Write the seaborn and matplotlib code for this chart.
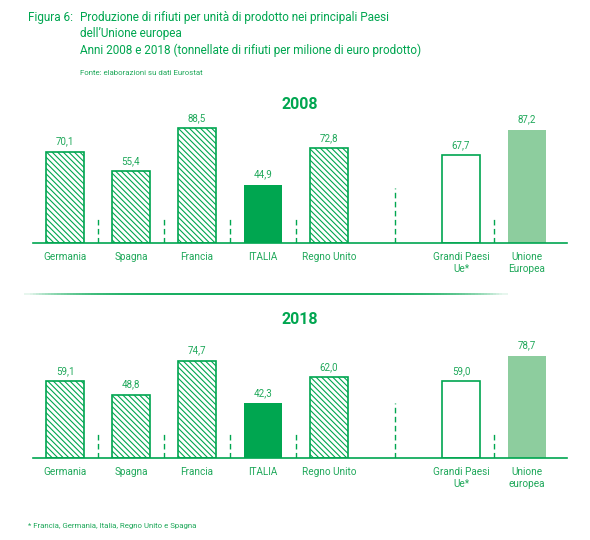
import matplotlib
matplotlib.use("Agg")
import matplotlib.pyplot as plt
import numpy as np
import pandas as pd
import seaborn as sns
from matplotlib.collections import LineCollection

# data
labels_2008 = ["Germania", "Spagna", "Francia", "ITALIA", "Regno Unito", "Grandi Paesi\nUe*", "Unione\nEuropea"]
labels_2018 = ["Germania", "Spagna", "Francia", "ITALIA", "Regno Unito", "Grandi Paesi\nUe*", "Unione\neuropea"]
values_2008 = [70.1, 55.4, 88.5, 44.9, 72.8, 67.7, 87.2]
values_2018 = [59.1, 48.8, 74.7, 42.3, 62.0, 59.0, 78.7]
positions = [0, 1, 2, 3, 4, 6, 7]
kinds = ["hatch", "hatch", "hatch", "italia", "hatch", "empty", "ue"]

GREEN = "#00A650"
LIGHT = "#8DCD9E"
TEXT = "#1FA85A"

sns.set_theme(style="white")
plt.rcParams["font.family"] = ["Roboto", "DejaVu Sans"]
plt.rcParams["hatch.linewidth"] = 0.8

fig = plt.figure(figsize=(5.9, 5.4), dpi=100)
W, H = 590, 540


def panel(base_y, values, labels, year):
    # axes spans baseline x 33..567 px, 1.3 px per unit
    ax = fig.add_axes([33 / W, 1 - base_y / H, 534 / W, 130 / H])
    df = pd.DataFrame({"pos": positions, "val": values})
    sns.barplot(data=df, x="pos", y="val", native_scale=True, width=0.58,
                color=GREEN, ax=ax)
    for p, k in zip(ax.patches, kinds):
        if k == "hatch":
            p.set_facecolor("white"); p.set_edgecolor(GREEN); p.set_hatch("\\" * 6); p.set_linewidth(1.2)
        elif k == "italia":
            p.set_facecolor(GREEN); p.set_edgecolor(GREEN); p.set_linewidth(0)
        elif k == "empty":
            p.set_facecolor("white"); p.set_edgecolor(GREEN); p.set_linewidth(1.2)
        else:
            p.set_facecolor(LIGHT); p.set_edgecolor(LIGHT); p.set_linewidth(0)
    for x, v in zip(positions, values):
        ax.text(x, v + 4, f"{v:.1f}".replace(".", ","), ha="center", va="bottom",
                fontsize=7, color=TEXT)
    # dashed separators
    ax.vlines([0.5, 1.5, 2.5, 3.5, 6.5], 0, 19, colors=GREEN, linewidth=1,
              linestyles=(0, (4, 2.5)))
    ax.vlines([5], 0, 42, colors=GREEN, linewidth=1, linestyles=(0, (4, 2.5)))
    ax.set_xlim(-32 / 66, 502 / 66)
    ax.set_ylim(0, 100)
    ax.set_xticks(positions)
    ax.set_xticklabels(labels, fontsize=7.2, color=TEXT, linespacing=1.25)
    ax.tick_params(axis="x", length=0, pad=6.5)
    ax.set_yticks([])
    ax.set_xlabel("")
    ax.set_ylabel("")
    for s in ["top", "left", "right"]:
        ax.spines[s].set_visible(False)
    ax.spines["bottom"].set_color(GREEN)
    ax.spines["bottom"].set_linewidth(1.2)
    ax.patch.set_alpha(0)
    fig.text(300 / W, 1 - (base_y - 139) / H, year, ha="center", va="center",
             fontsize=11.5, fontweight="bold", color=GREEN)
    return ax


panel(243, values_2008, labels_2008, "2008")
panel(458, values_2018, labels_2018, "2018")

# fading divider line
xs = np.linspace(24, 508, 160)
segs = [[(xs[i] / W, 1 - 294 / H), (xs[i + 1] / W, 1 - 294 / H)] for i in range(len(xs) - 1)]
mid = (xs[:-1] + xs[1:]) / 2
alpha = np.clip(1 - (np.abs(mid - 266) / 242) ** 5, 0.1, 1)
cols = [(0 / 255, 166 / 255, 80 / 255, a) for a in alpha]
fig.add_artist(LineCollection(segs, colors=cols, linewidths=1.3, transform=fig.transFigure))

# titles
fig.text(28 / W, 1 - 18 / H, "Figura 6:", fontsize=8.5, color=GREEN, va="center")
fig.text(80 / W, 1 - 18 / H, "Produzione di rifiuti per unità di prodotto nei principali Paesi",
         fontsize=8.5, color=GREEN, va="center")
fig.text(80 / W, 1 - 34 / H, "dell\u2019Unione europea", fontsize=8.5, color=GREEN, va="center")
fig.text(80 / W, 1 - 50 / H, "Anni 2008 e 2018 (tonnellate di rifiuti per milione di euro prodotto)",
         fontsize=8.5, color=GREEN, va="center")
fig.text(80 / W, 1 - 73 / H, "Fonte: elaborazioni su dati Eurostat", fontsize=5.7, color=TEXT, va="center")
fig.text(28 / W, 1 - 526 / H, "* Francia, Germania, Italia, Regno Unito e Spagna", fontsize=5.7,
         color=TEXT, va="center")

fig.savefig("out.png", dpi=100)
